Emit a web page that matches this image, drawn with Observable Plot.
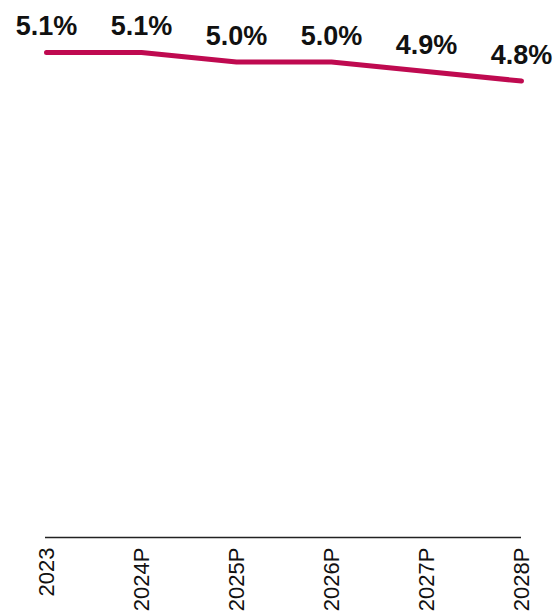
<!DOCTYPE html>
<html>
<head>
<meta charset="utf-8">
<script src="https://cdn.jsdelivr.net/npm/d3@7"></script>
<script src="https://cdn.jsdelivr.net/npm/@observablehq/plot@0.6"></script>
<style>
  html, body { margin: 0; padding: 0; background: #fff; }
  #chart svg { display: block; }
</style>
</head>
<body>
<div id="chart"></div>
<script>
const years = ["2023", "2024P", "2025P", "2026P", "2027P", "2028P"];
const values = [5.1, 5.1, 5.0, 5.0, 4.9, 4.8];
const labels = ["5.1%", "5.1%", "5.0%", "5.0%", "4.9%", "4.8%"];

const data = years.map((y, i) => ({year: y, value: values[i], label: labels[i]}));

const chart = Plot.plot({
  width: 556,
  height: 616,
  marginLeft: 45,
  marginRight: 35,
  marginTop: 52,
  marginBottom: 79,
  style: {fontFamily: "'Liberation Sans', Arial, sans-serif", background: "#fff"},
  x: {type: "point", domain: years, padding: 0},
  y: {domain: [0, 5.1], axis: null},
  marks: [
    Plot.ruleY([0], {stroke: "#222", strokeWidth: 1.6}),
    Plot.axisX({tickRotate: -90, tickSize: 0, tickPadding: 10, fontSize: 22, fill: "#111", label: null}),
    Plot.line(data, {x: "year", y: "value", stroke: "#bf0a50", strokeWidth: 5, strokeLinecap: "round", strokeLinejoin: "round"}),
    Plot.text(data, {x: "year", y: "value", text: "label", dy: -26, fontSize: 27, fontWeight: "bold", fill: "#111"})
  ]
});
document.getElementById("chart").appendChild(chart);
</script>
</body>
</html>
